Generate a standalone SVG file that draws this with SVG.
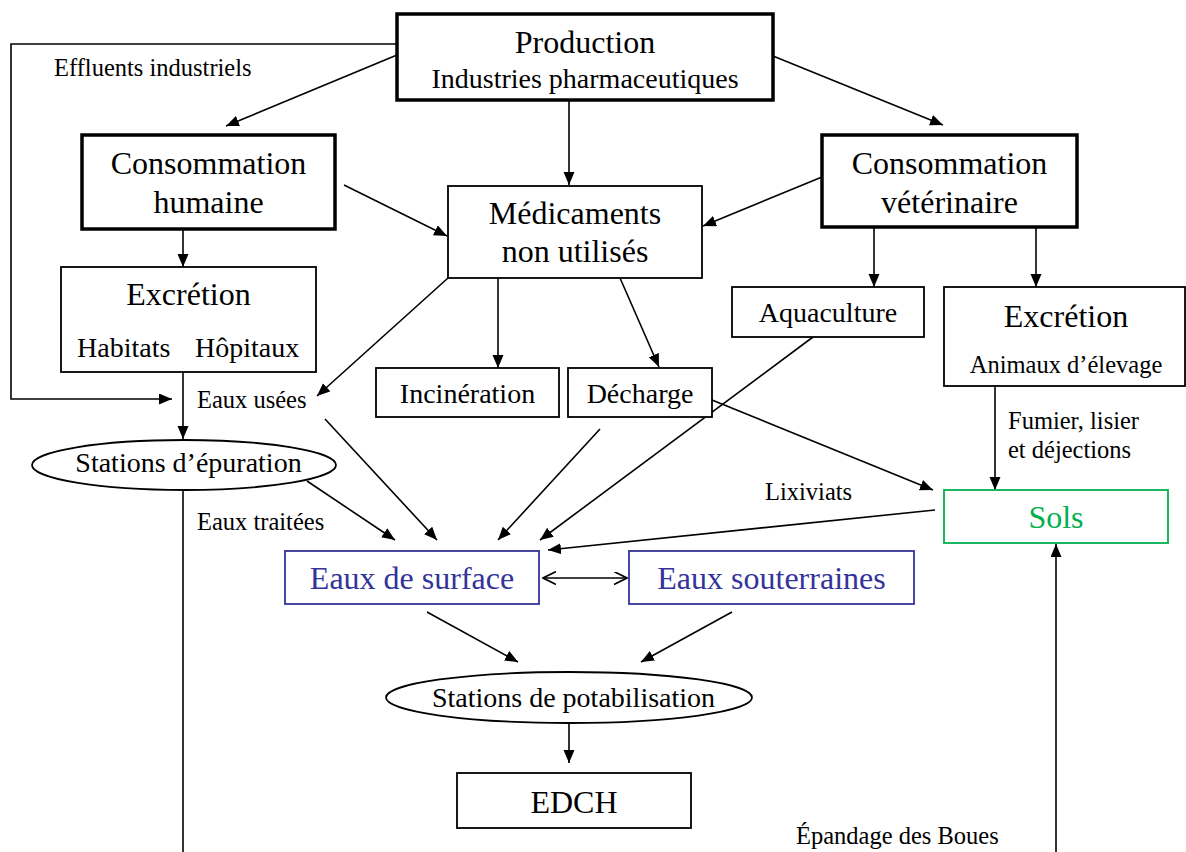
<svg xmlns="http://www.w3.org/2000/svg" width="1186" height="852" viewBox="0 0 1186 852">
<style>
text{font-family:"Liberation Serif","Times New Roman",serif;fill:#000}
.big{font-size:32px}
.mid{font-size:28px}
.sm{font-size:24.5px}
.thick{fill:#fff;stroke:#000;stroke-width:3.5}
.thin{fill:#fff;stroke:#000;stroke-width:1.8}
.blue{fill:#fff;stroke:#33339a;stroke-width:1.8}
.green{fill:#fff;stroke:#00b050;stroke-width:1.8}
.bt{fill:#33339a}
.gt{fill:#00b050}
.c{stroke:#000;stroke-width:1.6;fill:none}
.a{marker-end:url(#ah)}
</style>
<defs>
<marker id="ah" markerUnits="userSpaceOnUse" markerWidth="14" markerHeight="12" refX="13" refY="5.5" orient="auto">
<path d="M0,0 L13,5.5 L0,11 z" fill="#000"/>
</marker>
<marker id="oh" markerUnits="userSpaceOnUse" markerWidth="14" markerHeight="14" refX="13" refY="6.5" orient="auto-start-reverse">
<path d="M0,0 L13,6.5 L0,13" fill="none" stroke="#000" stroke-width="1.6"/>
</marker>
</defs>
<rect width="1186" height="852" fill="#fff"/>

<g id="connectors">
<polyline class="c a" points="397,44 11,44 11,399 172,399"/>
<line class="c a" x1="397" y1="55" x2="226" y2="126"/>
<line class="c a" x1="569" y1="100" x2="569" y2="185"/>
<line class="c a" x1="773" y1="56" x2="943" y2="125"/>
<line class="c a" x1="344" y1="185" x2="447" y2="236"/>
<line class="c a" x1="822" y1="177" x2="703" y2="226"/>
<line class="c a" x1="183" y1="229" x2="183" y2="267"/>
<line class="c a" x1="874" y1="227" x2="874" y2="287"/>
<line class="c a" x1="1036" y1="227" x2="1036" y2="287"/>
<line class="c a" x1="183" y1="367" x2="183" y2="439"/>
<line class="c" x1="183" y1="490" x2="183" y2="852"/>
<line class="c a" x1="448" y1="278" x2="317" y2="396"/>
<line class="c a" x1="498" y1="278" x2="498" y2="368"/>
<line class="c a" x1="620" y1="278" x2="659" y2="367"/>
<line class="c a" x1="307" y1="481" x2="395" y2="540"/>
<line class="c a" x1="325" y1="419" x2="437" y2="540"/>
<line class="c a" x1="600" y1="429" x2="498" y2="540"/>
<line class="c a" x1="813" y1="337" x2="540" y2="540"/>
<line class="c a" x1="712" y1="400" x2="933" y2="490"/>
<line class="c a" x1="935" y1="510" x2="548" y2="550"/>
<line class="c a" x1="995" y1="378" x2="995" y2="490"/>
<line class="c a" x1="1056" y1="852" x2="1056" y2="544"/>
<line class="c" x1="543" y1="578" x2="627" y2="578" marker-start="url(#oh)" marker-end="url(#oh)"/>
<line class="c a" x1="427" y1="612" x2="518" y2="662"/>
<line class="c a" x1="732" y1="612" x2="641" y2="662"/>
<line class="c a" x1="569" y1="723" x2="569" y2="763"/>
</g>

<g id="labels">
<text class="sm" x="54" y="76">Effluents industriels</text>
<text class="sm" x="197" y="408">Eaux usées</text>
<text class="sm" x="197" y="530">Eaux traitées</text>
<text class="sm" x="765" y="500">Lixiviats</text>
<text class="sm" x="1008" y="429">Fumier, lisier</text>
<text class="sm" x="1008" y="458">et déjections</text>
<text class="sm" x="796" y="844">Épandage des Boues</text>
</g>

<g id="production">
<rect class="thick" x="397" y="14" width="376" height="86"/>
<text class="big" x="585" y="53" text-anchor="middle">Production</text>
<text class="mid" x="585" y="88" text-anchor="middle">Industries pharmaceutiques</text>
</g>

<g id="conso-humaine">
<rect class="thick" x="82" y="135" width="253" height="94"/>
<text class="big" x="208.5" y="174" text-anchor="middle">Consommation</text>
<text class="big" x="208.5" y="213" text-anchor="middle">humaine</text>
</g>

<g id="conso-veterinaire">
<rect class="thick" x="822" y="135" width="255" height="92"/>
<text class="big" x="949.5" y="174" text-anchor="middle">Consommation</text>
<text class="big" x="949.5" y="213" text-anchor="middle">vétérinaire</text>
</g>

<g id="medicaments">
<rect class="thin" x="448" y="186" width="254" height="92"/>
<text class="big" x="575" y="224" text-anchor="middle">Médicaments</text>
<text class="big" x="575" y="262" text-anchor="middle">non utilisés</text>
</g>

<g id="excretion-humaine">
<rect class="thin" x="61" y="267" width="255" height="105"/>
<text class="big" x="188.5" y="305" text-anchor="middle">Excrétion</text>
<text class="mid" x="77" y="357">Habitats</text>
<text class="mid" x="195" y="357">Hôpitaux</text>
</g>

<g id="aquaculture">
<rect class="thin" x="732" y="287" width="192" height="50"/>
<text class="mid" x="828" y="322" text-anchor="middle">Aquaculture</text>
</g>

<g id="excretion-animale">
<rect class="thin" x="944" y="287" width="241" height="99"/>
<text class="big" x="1066" y="327" text-anchor="middle">Excrétion</text>
<text class="sm" x="1066" y="373" text-anchor="middle">Animaux d’élevage</text>
</g>

<g id="incineration">
<rect class="thin" x="376" y="368" width="183" height="49"/>
<text class="mid" x="467.5" y="403" text-anchor="middle">Incinération</text>
</g>

<g id="decharge">
<rect class="thin" x="568" y="368" width="144" height="49"/>
<text class="mid" x="640" y="403" text-anchor="middle">Décharge</text>
</g>

<g id="stations-epuration">
<ellipse class="thin" cx="184" cy="465" rx="152" ry="25"/>
<text class="mid" x="188.5" y="472" text-anchor="middle">Stations d’épuration</text>
</g>

<g id="sols">
<rect class="green" x="944" y="490" width="224" height="53"/>
<text class="big gt" x="1056" y="528" text-anchor="middle">Sols</text>
</g>

<g id="eaux-surface">
<rect class="blue" x="285" y="551" width="254" height="53"/>
<text class="big bt" x="412" y="589" text-anchor="middle">Eaux de surface</text>
</g>

<g id="eaux-souterraines">
<rect class="blue" x="629" y="551" width="285" height="53"/>
<text class="big bt" x="771.5" y="589" text-anchor="middle">Eaux souterraines</text>
</g>

<g id="stations-potabilisation">
<ellipse class="thin" cx="569" cy="697.5" rx="183" ry="25.5"/>
<text class="mid" x="573.5" y="707" text-anchor="middle">Stations de potabilisation</text>
</g>

<g id="edch">
<rect class="thin" x="457" y="773" width="234" height="55"/>
<text class="big" x="574" y="813" text-anchor="middle">EDCH</text>
</g>
</svg>
